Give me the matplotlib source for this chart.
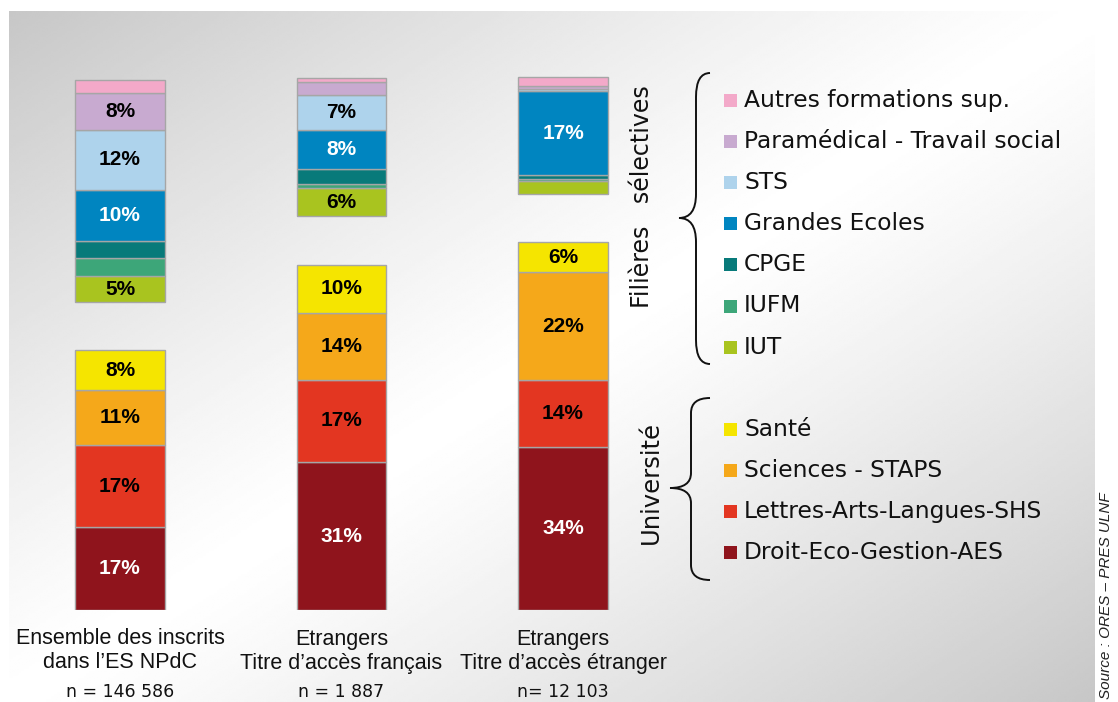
import numpy as np
import matplotlib
matplotlib.use("Agg")
import matplotlib.pyplot as plt
from matplotlib.patches import Rectangle, PathPatch
from matplotlib.path import Path

# Bar groups
groups = ["Ensemble des inscrits\ndans l’ES NPdC",
          "Etrangers\nTitre d’accès français",
          "Etrangers\nTitre d’accès étranger"]
counts = ["n = 146 586", "n = 1 887", "n= 12 103"]

# Université (bottom -> top), % of enrolled students
droit = [17.1, 30.6, 33.8]
lettres = [17.0, 17.0, 13.7]
sciences = [11.4, 13.9, 22.3]
sante = [8.2, 9.9, 6.2]
univ_names = ["Droit-Eco-Gestion-AES", "Lettres-Arts-Langues-SHS",
              "Sciences - STAPS", "Santé"]
univ_colors = ["#8f141c", "#e33621", "#f5a81a", "#f5e500"]

# Filières sélectives (bottom -> top)
iut = [5.3, 5.8, 2.7]
iufm = [3.7, 0.8, 0.4]
cpge = [3.7, 3.1, 0.8]
grandes_ecoles = [10.5, 8.1, 17.4]
sts = [12.4, 7.4, 0.4]
paramedical = [7.6, 2.5, 0.6]
autres = [2.8, 0.9, 1.9]
sel_names = ["IUT", "IUFM", "CPGE", "Grandes Ecoles", "STS",
             "Paramédical - Travail social", "Autres formations sup."]
sel_colors = ["#a9c41f", "#3da679", "#087a7a", "#0085c0", "#aed3ec",
              "#c8aad0", "#f3a9c9"]

gap = 10          # visual space between the two blocks
min_label = 5     # smaller segments get no label

univ_series = [droit, lettres, sciences, sante]
sel_series = [iut, iufm, cpge, grandes_ecoles, sts, paramedical, autres]
white_text = {"#8f141c", "#0085c0"}

W, H = 1118, 702
fig = plt.figure(figsize=(W / 100, H / 100), dpi=100)
fig.patch.set_facecolor("white")

# pixel overlay for background, legend and braces
ov = fig.add_axes([0, 0, 1, 1])
ov.set_xlim(0, W)
ov.set_ylim(H, 0)
ov.axis("off")

gx, gy = np.meshgrid(np.linspace(0, 1, 400), np.linspace(0, 1, 300))
shade = 1 - 0.22 * np.abs(gx + gy - 1) ** 1.2
ov.imshow(shade, cmap="gray", vmin=0, vmax=1, extent=[9, 1095, 702, 11],
          aspect="auto", interpolation="bilinear", zorder=0)

# bars
ax = fig.add_axes([9.25 / W, 92 / H, 664.5 / W, 541.6 / H])
ax.set_facecolor("none")
ax.set_xlim(-0.5, 2.5)
ax.set_ylim(0, 112)
ax.axis("off")

x = np.arange(len(groups))
bw = 0.406
pct_font = dict(family=["Liberation Sans", "DejaVu Sans"], fontsize=15,
                fontweight="bold", ha="center", va="center")


def stack(series, colors, bottom):
    for vals, color in zip(series, colors):
        vals = np.array(vals)
        ax.bar(x, vals, bottom=bottom, width=bw, color=color,
               edgecolor="#a6a6a6", linewidth=1.0)
        tc = "white" if color in white_text else "black"
        for xi, v, b in zip(x, vals, bottom):
            if v >= min_label:
                ax.text(xi, b + v / 2, f"{round(v)}%", color=tc, **pct_font)
        bottom = bottom + vals
    return bottom


top = stack(univ_series, univ_colors, np.zeros(len(groups)))
stack(sel_series, sel_colors, top + gap)

# category labels under the bars
for xi, g, n in zip(x, groups, counts):
    px = 9.25 + (xi + 0.5) * 221.5
    l1, l2 = g.split("\n")
    ov.text(px, 639, l1, ha="center", va="center", fontsize=15.5,
            family=["Liberation Sans", "DejaVu Sans"], color="#111111")
    ov.text(px, 663, l2, ha="center", va="center", fontsize=15.5,
            family=["Liberation Sans", "DejaVu Sans"], color="#111111")
    ov.text(px, 692, n, ha="center", va="center", fontsize=12.5,
            family="DejaVu Sans", color="#111111")

# legend
def legend_rows(names, colors, y0, step):
    for i, (name, color) in enumerate(zip(names[::-1], colors[::-1])):
        yc = y0 + i * step
        ov.add_patch(Rectangle((724, yc - 6.5), 13, 13, facecolor=color,
                               edgecolor="none", zorder=3))
        ov.text(744, yc, name, ha="left", va="center", fontsize=16.8,
                family="DejaVu Sans", color="#111111", zorder=3)


legend_rows(sel_names, sel_colors, 100, 41.2)
legend_rows(univ_names, univ_colors, 429, 41.3)


def brace(x_out, x_mid, x_tip, y_top, y_tip, y_bot, r):
    verts = [(x_out, y_top), (x_mid, y_top), (x_mid, y_top + r),
             (x_mid, y_tip - r),
             (x_mid, y_tip), (x_tip, y_tip),
             (x_mid, y_tip), (x_mid, y_tip + r),
             (x_mid, y_bot - r),
             (x_mid, y_bot), (x_out, y_bot)]
    codes = [Path.MOVETO, Path.CURVE3, Path.CURVE3, Path.LINETO,
             Path.CURVE3, Path.CURVE3, Path.CURVE3, Path.CURVE3,
             Path.LINETO, Path.CURVE3, Path.CURVE3]
    ov.add_patch(PathPatch(Path(verts, codes), facecolor="none",
                           edgecolor="#111111", linewidth=1.4, zorder=3))


brace(710, 696, 679, 73, 218, 364, 24)
brace(710, 691, 670, 398, 488, 580, 15)

ov.text(642, 197, "Filières   sélectives", rotation=90, ha="center",
        va="center", fontsize=17, family="DejaVu Sans", color="#111111")
ov.text(651, 482, "Université", rotation=90, ha="center", va="center",
        fontsize=17.5, family="DejaVu Sans", color="#111111")

ov.text(1106, 699, "Source : ORES – PRES ULNF", rotation=90, ha="center",
        va="bottom", fontsize=11, style="italic",
        family=["Liberation Sans", "DejaVu Sans"], color="#222222")

fig.savefig("out.png", dpi=100)
